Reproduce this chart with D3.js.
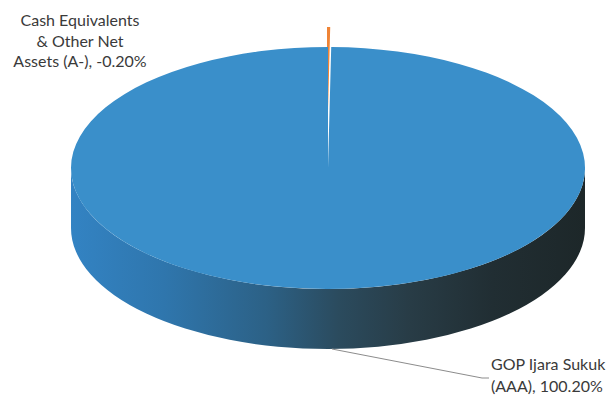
<!DOCTYPE html>
<html>
<head>
<meta charset="utf-8">
<script src="https://cdn.jsdelivr.net/npm/d3@7"></script>
<style>
  html, body { margin: 0; padding: 0; background: #ffffff; }
  svg { display: block; }
  text { font-family: Lato, "Open Sans", sans-serif; fill: #3a3a3a; }
</style>
</head>
<body>
<svg id="chart" width="608" height="397"></svg>
<script>
// Portfolio allocation by asset (percent of net assets)
const categories = ["Cash Equivalents & Other Net Assets (A-)", "GOP Ijara Sukuk (AAA)"];
const values = [-0.20, 100.20];
const colors = ["#ef8436", "#3a8fca"];
// Label text split into display lines; the value is appended to the last line
const labelLines = [
  ["Cash Equivalents", "& Other Net", "Assets (A-)"],
  ["GOP Ijara Sukuk", "(AAA)"]
];

const svg = d3.select("#chart");

// Ellipse geometry of the tilted pie
const cx = 328, cy = 168, rx = 257, ry = 121, depth = 60;
const explode = 20; // the small slice is pulled out away from the viewer

const defs = svg.append("defs");
const grad = defs.append("linearGradient")
  .attr("id", "sideGrad")
  .attr("gradientUnits", "userSpaceOnUse")
  .attr("x1", cx - rx).attr("x2", cx + rx).attr("y1", 0).attr("y2", 0);
[[0, "#3383c3"], [0.18, "#2f76ad"], [0.38, "#2c6186"], [0.52, "#2b4b5e"],
 [0.66, "#283c46"], [0.82, "#212e33"], [1, "#1d2729"]]
  .forEach(([o, c]) => grad.append("stop").attr("offset", o).attr("stop-color", c));

// Side wall of the pie (front half only is visible)
svg.append("path")
  .attr("d", `M${cx - rx},${cy} A${rx},${ry} 0 0 0 ${cx + rx},${cy}
              L${cx + rx},${cy + depth} A${rx},${ry} 0 0 1 ${cx - rx},${cy + depth} Z`)
  .attr("fill", "url(#sideGrad)");

// Top faces: pie slices built with d3.pie and squashed into an ellipse
const pie = d3.pie().sort(null).value(d => Math.abs(d));
const arcs = pie(values);
const arc = d3.arc().innerRadius(0).outerRadius(rx);

const faces = svg.append("g")
  .attr("transform", `translate(${cx},${cy}) scale(1,${ry / rx})`);

faces.selectAll("path.slice")
  .data(arcs)
  .join("path")
  .attr("class", "slice")
  .attr("transform", (d, i) => i === 0 ? `translate(-1,${-explode * rx / ry})` : null)
  .attr("d", arc)
  .attr("fill", (d, i) => colors[i]);

// Data labels (plain hyphen for the minus sign)
const fmt = v => v.toFixed(2);
const labels = svg.append("g");

// Small slice label, centred block at top-left
const lab0 = labels.append("text")
  .attr("text-anchor", "middle")
  .attr("font-size", 16);
labelLines[0].forEach((line, j) => {
  const last = j === labelLines[0].length - 1;
  lab0.append("tspan")
    .attr("x", 80)
    .attr("y", 26 + j * 20.5)
    .text(last ? `${line}, ${fmt(values[0])}%` : line);
});

// Large slice label with leader line from the pie's front edge
svg.append("polyline")
  .attr("points", `${cx + 4},${cy + ry + depth} 482,378 489,378`)
  .attr("fill", "none")
  .attr("stroke", "#8c8c8c")
  .attr("stroke-width", 1);

const lab1 = labels.append("text")
  .attr("text-anchor", "start")
  .attr("font-size", 16);
labelLines[1].forEach((line, j) => {
  const last = j === labelLines[1].length - 1;
  lab1.append("tspan")
    .attr("x", 491)
    .attr("y", 370 + j * 22)
    .text(last ? `${line}, ${fmt(values[1])}%` : line);
});
</script>
</body>
</html>
